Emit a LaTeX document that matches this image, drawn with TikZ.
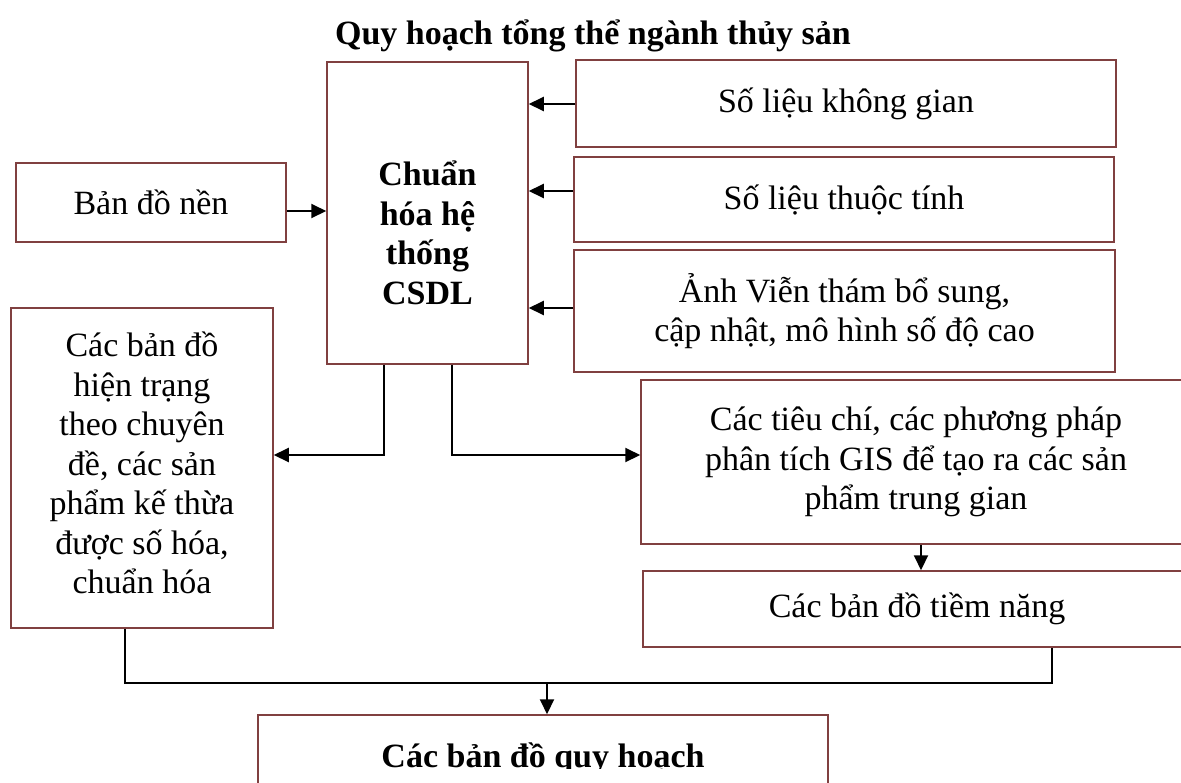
\documentclass[tikz,border=0pt]{standalone}
\usepackage{fontspec}
\setmainfont{Liberation Serif}
\usetikzlibrary{arrows.meta}
\definecolor{boxred}{RGB}{128,64,64}

\begin{document}
\begin{tikzpicture}[x=0.5pt, y=-0.5pt,
        box/.style={draw=boxred, line width=0.75pt, inner sep=0pt, align=center, font=\fontsize{17}{19.75}\selectfont},
        boldtext/.style={inner sep=0pt, align=center, font=\fontsize{17}{19.75}\selectfont\bfseries},
        link/.style={line width=1pt},
        arrow/.style={link, -{Triangle[length=7.5pt, width=7pt]}}
    ]
    \useasboundingbox (0,0) rectangle (1181,782);

    % Tiêu đề
    \node[boldtext, anchor=base] (title) at (593,44) {Quy hoạch tổng thể ngành thủy sản};

    % Khối trung tâm
    \node[box, minimum width=100.5pt, minimum height=151pt] (main) at (427.5,213) {};
    \node[boldtext] (maintxt) at (427.5,233) {Chuẩn\\hóa hệ\\thống\\CSDL};

    % Dữ liệu đầu vào
    \node[box, minimum width=135pt, minimum height=39.5pt] (nen) at (151,202.5) {Bản đồ nền};
    \node[box, minimum width=270pt, minimum height=43.5pt] (kg) at (846,103.5) {Số liệu không gian};
    \node[box, minimum width=270pt, minimum height=42.5pt] (tt) at (844,199.5) {Số liệu thuộc tính};
    \node[box, minimum width=270.5pt, minimum height=61pt] (anh) at (844.5,311) {Ảnh Viễn thám bổ sung,\\cập nhật, mô hình số độ cao};

    % Sản phẩm
    \node[box, minimum width=131pt, minimum height=160pt] (hientrang) at (142,468) {};
    \node[box, draw=none] (hientrangtxt) at (142,463) {Các bản đồ\\hiện trạng\\theo chuyên\\đề, các sản\\phẩm kế thừa\\được số hóa,\\chuẩn hóa};
    \node[box, minimum width=275pt, minimum height=82pt] (tieuchi) at (916,462) {Các tiêu chí, các phương pháp\\phân tích GIS để tạo ra các sản\\phẩm trung gian};
    \node[box, minimum width=274pt, minimum height=38pt] (tiemnang) at (917,609) {Các bản đồ tiềm năng};
    \node[box, minimum width=285pt, minimum height=42.5pt] (quyhoach) at (543,757.5) {};
    \begin{scope}
        \clip (258,700) rectangle (828,768);
        \node[boldtext, anchor=base] (quyhoachtxt) at (543,767) {Các bản đồ quy hoạch};
    \end{scope}

    % Mũi tên vào khối trung tâm
    \draw[arrow] (nen.east |- 0,211) -- (main.west |- 0,211);
    \draw[arrow] (kg.west |- 0,104) -- (main.east |- 0,104);
    \draw[arrow] (tt.west |- 0,191) -- (main.east |- 0,191);
    \draw[arrow] (anh.west |- 0,308) -- (main.east |- 0,308);

    % Mũi tên ra
    \draw[arrow] (384,0 |- main.south) |- (hientrang.east |- 0,455);
    \draw[arrow] (452,0 |- main.south) |- (tieuchi.west |- 0,455);
    \draw[arrow] (921,0 |- tieuchi.south) -- (921,0 |- tiemnang.north);

    % Gộp về bản đồ quy hoạch
    \coordinate (join) at (547,683);
    \draw[link] (125,0 |- hientrang.south) |- (1052,683) -- (1052,0 |- tiemnang.south);
    \draw[arrow] (join) -- (join |- quyhoach.north);
\end{tikzpicture}
\end{document}
